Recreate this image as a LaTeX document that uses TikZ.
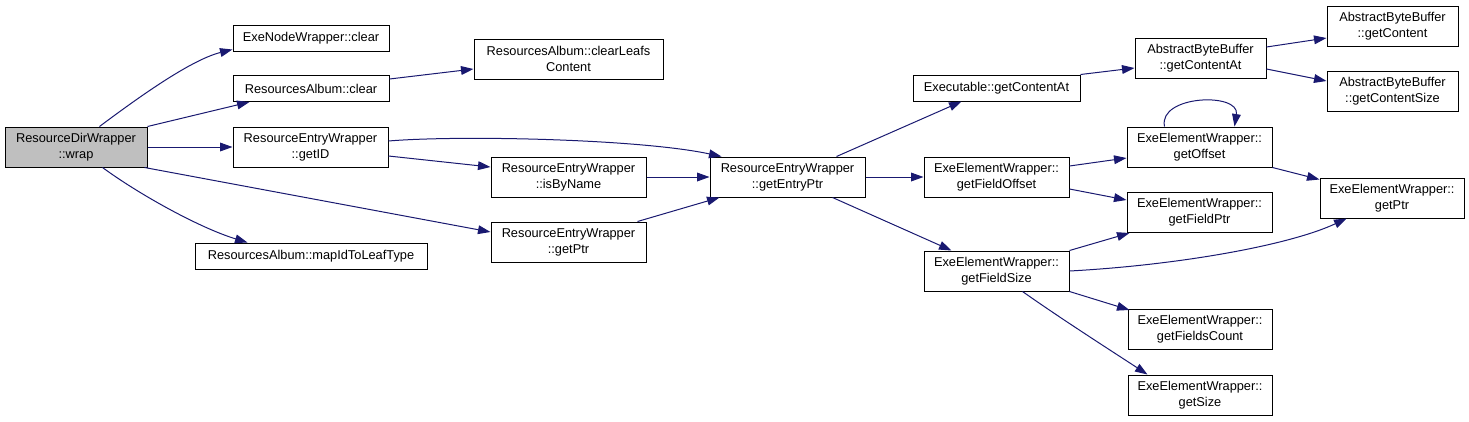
\documentclass[tikz,border=0pt]{standalone}
\usepackage{fontspec}
\setmainfont{Liberation Sans}
\usetikzlibrary{arrows.meta,calc}
\definecolor{edgecol}{HTML}{191970}
\definecolor{rootfill}{HTML}{BFBFBF}
\begin{document}
\begin{tikzpicture}[x=1pt,y=-1pt,
  fn/.style={draw=black,line width=1pt,fill=white,inner sep=0pt,align=center,
    font=\fontsize{12.8}{16}\selectfont,minimum width=#1},
  fn/.default=145pt,
  two/.style={minimum height=40pt},
  one/.style={minimum height=26pt},
  call/.style={draw=edgecol,line width=1pt,-{Triangle[length=12.5pt,width=8.75pt]},color=edgecol}]
\useasboundingbox (0,0) rectangle (1469,421);
% nodes
\node[fn=142pt,two,fill=rootfill] (wrap) at (76,147) {ResourceDirWrapper\\::wrap};
\node[fn=156pt,one] (enwclear) at (311,38) {ExeNodeWrapper::clear};
\node[fn=156pt,one] (raclear) at (311,88.5) {ResourcesAlbum::clear};
\node[fn=155pt,two] (getid) at (310.5,147) {ResourceEntryWrapper\\::getID};
\node[fn=232pt,one] (map) at (311,256) {ResourcesAlbum::mapIdToLeafType};
\node[fn=189pt,two] (clearleafs) at (568.5,59) {ResourcesAlbum::clearLeafs\\Content};
\node[fn=155pt,two] (isbyname) at (568.5,177) {ResourceEntryWrapper\\::isByName};
\node[fn=155pt,two] (rewgetptr) at (568.5,242) {ResourceEntryWrapper\\::getPtr};
\node[fn=155pt,two] (getentryptr) at (787.5,177) {ResourceEntryWrapper\\::getEntryPtr};
\node[fn=167pt,one] (exegca) at (996.5,88) {Executable::getContentAt};
\node[fn=131pt,two] (abbgca) at (1200.5,58) {AbstractByteBuffer\\::getContentAt};
\node[fn=131pt,two] (abbgc) at (1392.5,26) {AbstractByteBuffer\\::getContent};
\node[fn=131pt,two] (abbgcs) at (1392.5,91) {AbstractByteBuffer\\::getContentSize};
\node[fn,two] (getfieldoffset) at (996.5,177) {ExeElementWrapper::\\getFieldOffset};
\node[fn,two] (getfieldsize) at (996.5,271) {ExeElementWrapper::\\getFieldSize};
\node[fn,two] (getoffset) at (1199.5,147) {ExeElementWrapper::\\getOffset};
\node[fn,two] (getfieldptr) at (1199.5,212.5) {ExeElementWrapper::\\getFieldPtr};
\node[fn=144pt,two] (eewgetptr) at (1392,198) {ExeElementWrapper::\\getPtr};
\node[fn=144pt,two] (getfieldscount) at (1200,329.5) {ExeElementWrapper::\\getFieldsCount};
\node[fn=144pt,two] (getsize) at (1200,395) {ExeElementWrapper::\\getSize};
% edges
\draw[call] ($(wrap.north west)+(95,0)$) .. controls (135,100) and (190,60) .. ($(enwclear.south west)+(0,-2)$);
\draw[call] (wrap.north east) -- ($(raclear.south west)+(17,0)$);
\draw[call] (wrap.east) -- (getid.west);
\draw[call] ($(wrap.south east)+(-3,0)$) -- ($(rewgetptr.west)+(0,-10)$);
\draw[call] ($(wrap.south west)+(98,0)$) .. controls (140,195) and (200,228) .. ($(map.north west)+(53,0)$);
\draw[call] ($(raclear.east)+(0,-9.5)$) -- ($(clearleafs.west)+(0,10)$);
\draw[call] ($(getid.east)+(0,-6)$) .. controls (460,135) and (640,139) .. ($(getentryptr.north west)+(12,0)$);
\draw[call] ($(getid.east)+(0,9)$) -- ($(isbyname.west)+(0,-10)$);
\draw[call] (isbyname.east) -- (getentryptr.west);
\draw[call] ($(rewgetptr.north east)+(-9,0)$) -- ($(getentryptr.south west)+(10,0)$);
\draw[call] ($(getentryptr.north west)+(127,0)$) -- ($(exegca.south west)+(49,0)$);
\draw[call] (getentryptr.east) -- (getfieldoffset.west);
\draw[call] ($(getentryptr.south west)+(123,0)$) -- ($(getfieldsize.north west)+(28,0)$);
\draw[call] (exegca.north east) -- ($(abbgca.west)+(0,10)$);
\draw[call] ($(abbgca.east)+(0,-11)$) -- ($(abbgc.west)+(0,12)$);
\draw[call] ($(abbgca.east)+(0,11)$) -- ($(abbgcs.west)+(0,-10)$);
\draw[call] ($(getfieldoffset.east)+(0,-11)$) -- ($(getoffset.west)+(0,11)$);
\draw[call] ($(getfieldoffset.east)+(0,12)$) -- ($(getfieldptr.west)+(0,-12.5)$);
\draw[call] ($(getoffset.north west)+(38,0)$) .. controls (1158,95) and (1240,92) .. ($(getoffset.north west)+(108,0)$);
\draw[call] (getoffset.south east) -- ($(eewgetptr.north west)+(0,2)$);
\draw[call] (getfieldsize.north east) -- ($(getfieldptr.south west)+(3,0)$);
\draw[call] (getfieldsize.east) .. controls (1180,265) and (1290,245) .. ($(eewgetptr.south west)+(27,0)$);
\draw[call] (getfieldsize.south east) -- ($(getfieldscount.north west)+(2,1)$);
\draw[call] ($(getfieldsize.south west)+(99,0)$) .. controls (1060,318) and (1110,350) .. ($(getsize.north west)+(20,0)$);
\end{tikzpicture}
\end{document}
